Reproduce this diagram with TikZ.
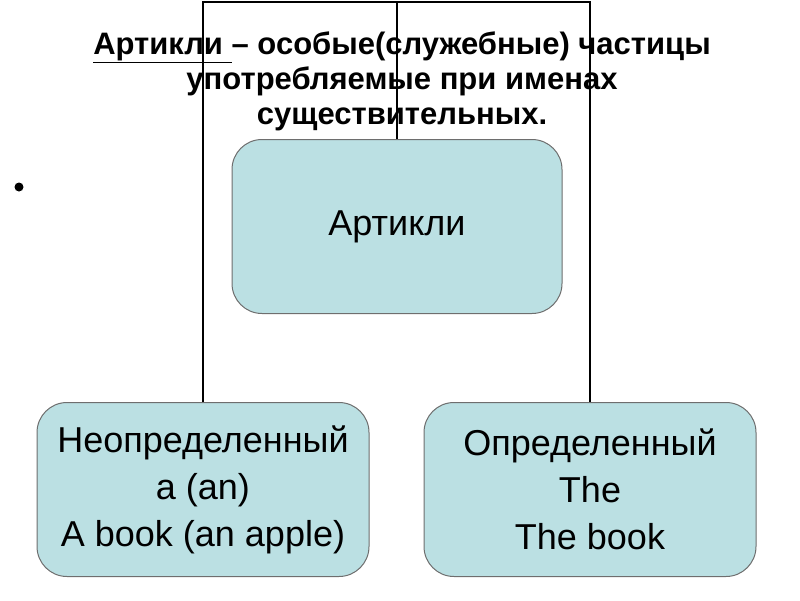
\documentclass[tikz,border=0pt]{standalone}
\usepackage{fontspec}
\setmainfont{Liberation Sans}
\usetikzlibrary{positioning}

\definecolor{boxfill}{RGB}{187,224,227}
\definecolor{boxline}{RGB}{110,110,110}

\begin{document}
\begin{tikzpicture}[x=1pt, y=-1pt,
    artbox/.style={draw=boxline, fill=boxfill, rounded corners=30pt, line width=1pt,
      minimum width=330pt, minimum height=174pt, align=center,
      font=\fontsize{36}{47}\selectfont},
    link/.style={line width=1.4pt}]
  \useasboundingbox (0,0) rectangle (800,600);

  \node[align=center, font=\fontsize{31}{35}\selectfont\bfseries] (title) at (402,81)
    {\underline{Артикли\ }– особые(служебные) частицы\\употребляемые при именах\\существительных.};
  \fill (19,187) circle (4.5);

  \node[artbox] (root) at (397,226.5) {Артикли};
  \node[artbox, minimum width=332pt] (indef) at (203,489.5) {Неопределенный\\a (an)\\A book (an apple)};
  \node[artbox, minimum width=332pt] (def) at (590,489.5) {Определенный\\The\\The book};

  \coordinate (hub) at (397,2);
  \draw[link] (root.north) -- (hub);
  \draw[link] (indef.north) |- (hub) -| (def.north);
\end{tikzpicture}
\end{document}
